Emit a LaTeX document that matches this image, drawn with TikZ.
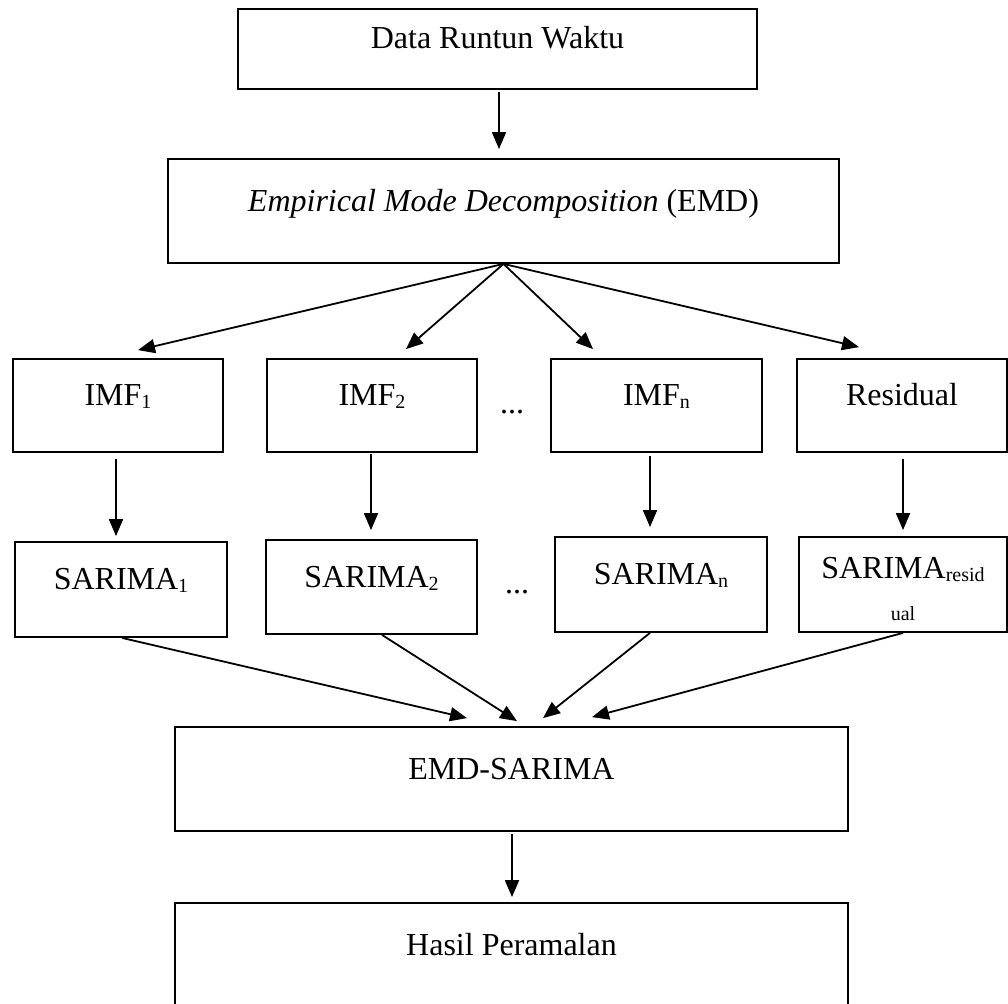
\documentclass[tikz,border=0pt]{standalone}
\usepackage{fontspec}
\setmainfont{Liberation Serif}
\usetikzlibrary{arrows.meta}
\newcommand{\sbs}[1]{\raisebox{-3pt}{\fontsize{20}{20}\selectfont #1}}
\begin{document}
\begin{tikzpicture}[x=1pt,y=-1pt,
  box/.style={draw, line width=1.8pt, inner sep=0pt, text height=12pt, text depth=12pt,
    font=\fontsize{32}{38}\selectfont},
  arr/.style={line width=1.8pt, -{Triangle[length=17pt,width=14pt]}},
  txt/.style={font=\fontsize{32}{38}\selectfont, inner sep=0pt, anchor=base}]
\useasboundingbox (0,0) rectangle (1008,1003);
% top boxes
\node[box, minimum width=519pt, minimum height=80pt] (data) at (497.5,49) {Data Runtun Waktu};
\node[box, minimum width=671pt, minimum height=104pt] (emd) at (503.5,211) {\textit{Empirical Mode Decomposition} (EMD)};
% IMF row
\node[box, minimum width=210pt, minimum height=93pt] (imf1) at (118,405.5) {IMF\sbs{1}};
\node[box, minimum width=210pt, minimum height=93pt] (imf2) at (372,405.5) {IMF\sbs{2}};
\node[box, minimum width=211pt, minimum height=93pt] (imfn) at (656.5,405.5) {IMF\sbs{n}};
\node[box, minimum width=210pt, minimum height=93pt] (res) at (902,405.5) {Residual};
\node[txt] (dots1) at (512,413) {...};
% SARIMA row
\node[box, minimum width=212pt, minimum height=95pt] (sar1) at (121,589.5) {SARIMA\sbs{1}};
\node[box, minimum width=211pt, minimum height=94pt] (sar2) at (371.5,587) {SARIMA\sbs{2}};
\node[box, minimum width=212pt, minimum height=95pt] (sarn) at (661,584.5) {SARIMA\sbs{n}};
\node[box, minimum width=208pt, minimum height=95pt, align=center, text height=70pt, text depth=5pt,
  font=\fontsize{32}{39}\selectfont] (sarr) at (903,584.5) {SARIMA\sbs{resid}\\\sbs{ual}};
\node[txt] (dots2) at (517,593) {...};
% bottom boxes
\node[box, minimum width=673pt, minimum height=104pt] (es) at (511.5,779) {EMD-SARIMA};
\node[box, minimum width=673pt, minimum height=104pt] (hasil) at (511.5,955) {Hasil Peramalan};
% arrows
\draw[arr] ([xshift=1.5pt,yshift=-2pt]data.south) -- ([xshift=-4.5pt,yshift=9pt]emd.north);
\draw[arr] (emd.south) -- ([xshift=20pt,yshift=8pt]imf1.north);
\draw[arr] (emd.south) -- ([xshift=34pt,yshift=9pt]imf2.north);
\draw[arr] (emd.south) -- ([xshift=-63.5pt,yshift=9pt]imfn.north);
\draw[arr] (emd.south) -- ([xshift=-43pt,yshift=11pt]res.north);
\draw[arr] ([xshift=-2pt,yshift=-6pt]imf1.south) -- ([xshift=-5pt,yshift=5pt]sar1.north);
\draw[arr] ([xshift=-1pt,yshift=-1pt]imf2.south) -- ([xshift=-0.5pt,yshift=9pt]sar2.north);
\draw[arr] ([xshift=-6.5pt,yshift=-3pt]imfn.south) -- ([xshift=-11pt,yshift=9pt]sarn.north);
\draw[arr] ([xshift=1pt,yshift=-6pt]res.south) -- ([xshift=0pt,yshift=6pt]sarr.north);
\draw[arr] ([xshift=1pt]sar1.south) -- ([xshift=-44.5pt,yshift=8pt]es.north);
\draw[arr] ([xshift=10.5pt]sar2.south) -- ([xshift=5.5pt,yshift=5pt]es.north);
\draw[arr] ([xshift=-11pt]sarn.south) -- ([xshift=31.5pt,yshift=8pt]es.north);
\draw[arr] (sarr.south) -- ([xshift=80.5pt,yshift=9pt]es.north);
\draw[arr] ([xshift=0.5pt,yshift=-2pt]es.south) -- ([xshift=0.5pt,yshift=5pt]hasil.north);
\end{tikzpicture}
\end{document}
